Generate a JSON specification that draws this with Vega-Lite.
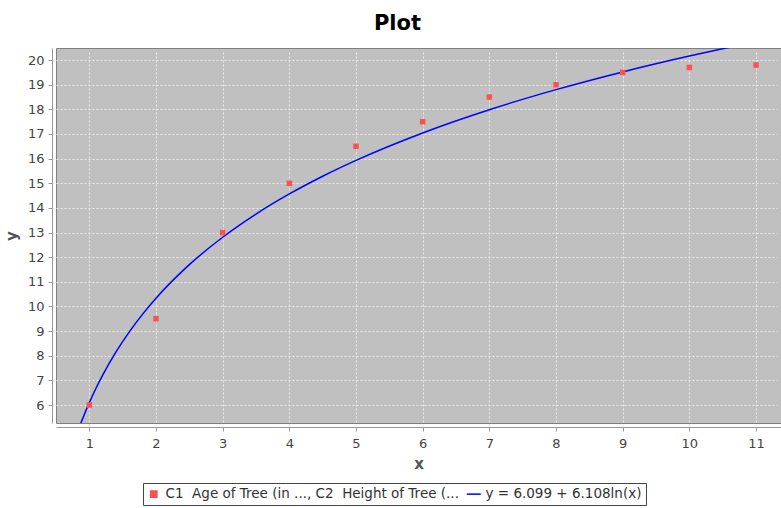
{
  "$schema": "https://vega.github.io/schema/vega-lite/v6.json",
  "autosize": {"type": "none"},
  "width": 725,
  "height": 375,
  "padding": {"left": 56, "top": 48, "right": 0, "bottom": 85},
  "background": "white",
  "title": {"text": "Plot", "fontSize": 21, "font": "DejaVu Sans", "fontWeight": "bold", "color": "black", "offset": 14, "dx": -21},
  "config": {
    "view": {"fill": "#C0C0C0", "stroke": "#808080", "strokeWidth": 1},
    "axis": {
      "gridColor": "#EAEAEA", "gridDash": [2, 2], "gridWidth": 1,
      "domainColor": "#999999", "tickColor": "#999999",
      "labelFont": "DejaVu Sans", "labelFontSize": 13, "labelColor": "#444444",
      "titleFont": "DejaVu Sans", "titleFontSize": 15, "titleFontWeight": "bold", "titleColor": "#555555",
      "offset": 4, "tickSize": 4
    }
  },
  "datasets": {
    "pts": [
      {"x": 1, "y": 6.0, "series": "C1\u00a0\u00a0Age of Tree (in ..., C2\u00a0\u00a0Height of Tree (..."},
      {"x": 2, "y": 9.5, "series": "C1\u00a0\u00a0Age of Tree (in ..., C2\u00a0\u00a0Height of Tree (..."},
      {"x": 3, "y": 13.0, "series": "C1\u00a0\u00a0Age of Tree (in ..., C2\u00a0\u00a0Height of Tree (..."},
      {"x": 4, "y": 15.0, "series": "C1\u00a0\u00a0Age of Tree (in ..., C2\u00a0\u00a0Height of Tree (..."},
      {"x": 5, "y": 16.5, "series": "C1\u00a0\u00a0Age of Tree (in ..., C2\u00a0\u00a0Height of Tree (..."},
      {"x": 6, "y": 17.5, "series": "C1\u00a0\u00a0Age of Tree (in ..., C2\u00a0\u00a0Height of Tree (..."},
      {"x": 7, "y": 18.5, "series": "C1\u00a0\u00a0Age of Tree (in ..., C2\u00a0\u00a0Height of Tree (..."},
      {"x": 8, "y": 19.0, "series": "C1\u00a0\u00a0Age of Tree (in ..., C2\u00a0\u00a0Height of Tree (..."},
      {"x": 9, "y": 19.5, "series": "C1\u00a0\u00a0Age of Tree (in ..., C2\u00a0\u00a0Height of Tree (..."},
      {"x": 10, "y": 19.7, "series": "C1\u00a0\u00a0Age of Tree (in ..., C2\u00a0\u00a0Height of Tree (..."},
      {"x": 11, "y": 19.8, "series": "C1\u00a0\u00a0Age of Tree (in ..., C2\u00a0\u00a0Height of Tree (..."}
    ],
    "fit": [
      {"x": 0.87, "y": 5.248, "series": "y = 6.099 + 6.108ln(x)"},
      {"x": 0.9, "y": 5.455, "series": "y = 6.099 + 6.108ln(x)"},
      {"x": 1.0, "y": 6.099, "series": "y = 6.099 + 6.108ln(x)"},
      {"x": 1.1, "y": 6.681, "series": "y = 6.099 + 6.108ln(x)"},
      {"x": 1.2, "y": 7.213, "series": "y = 6.099 + 6.108ln(x)"},
      {"x": 1.4, "y": 8.154, "series": "y = 6.099 + 6.108ln(x)"},
      {"x": 1.6, "y": 8.970, "series": "y = 6.099 + 6.108ln(x)"},
      {"x": 1.8, "y": 9.689, "series": "y = 6.099 + 6.108ln(x)"},
      {"x": 2.0, "y": 10.333, "series": "y = 6.099 + 6.108ln(x)"},
      {"x": 2.5, "y": 11.696, "series": "y = 6.099 + 6.108ln(x)"},
      {"x": 3.0, "y": 12.809, "series": "y = 6.099 + 6.108ln(x)"},
      {"x": 3.5, "y": 13.751, "series": "y = 6.099 + 6.108ln(x)"},
      {"x": 4.0, "y": 14.567, "series": "y = 6.099 + 6.108ln(x)"},
      {"x": 4.5, "y": 15.286, "series": "y = 6.099 + 6.108ln(x)"},
      {"x": 5.0, "y": 15.930, "series": "y = 6.099 + 6.108ln(x)"},
      {"x": 6.0, "y": 17.043, "series": "y = 6.099 + 6.108ln(x)"},
      {"x": 7.0, "y": 17.985, "series": "y = 6.099 + 6.108ln(x)"},
      {"x": 8.0, "y": 18.800, "series": "y = 6.099 + 6.108ln(x)"},
      {"x": 9.0, "y": 19.520, "series": "y = 6.099 + 6.108ln(x)"},
      {"x": 10.0, "y": 20.163, "series": "y = 6.099 + 6.108ln(x)"},
      {"x": 10.6, "y": 20.519, "series": "y = 6.099 + 6.108ln(x)"}
    ]
  },
  "encoding": {
    "x": {"field": "x", "type": "quantitative", "title": "x",
      "scale": {"domain": [0.5, 11.375], "nice": false, "zero": false},
      "axis": {"values": [1, 2, 3, 4, 5, 6, 7, 8, 9, 10, 11], "labelPadding": 6, "titlePadding": 6}},
    "y": {"field": "y", "type": "quantitative", "title": "y",
      "scale": {"domain": [5.27, 20.49], "nice": false, "zero": false},
      "axis": {"values": [6, 7, 8, 9, 10, 11, 12, 13, 14, 15, 16, 17, 18, 19, 20], "labelPadding": 4, "titlePadding": 8}},
    "color": {"field": "series", "type": "nominal",
      "scale": {"domain": ["C1\u00a0\u00a0Age of Tree (in ..., C2\u00a0\u00a0Height of Tree (...", "y = 6.099 + 6.108ln(x)"], "range": ["#FF5050", "#0000FF"]},
      "legend": {
        "orient": "none", "legendX": 87, "legendY": 435, "direction": "horizontal",
        "title": null, "labelFont": "DejaVu Sans", "labelFontSize": 13.5, "labelColor": "#333333",
        "labelLimit": 400, "strokeColor": "#444444", "fillColor": "white", "padding": 4,
        "columnPadding": 4, "symbolSize": 40, "labelOffset": 5,
        "encode": {"symbols": {"update": {
          "shape": {"signal": "datum.value === 'y = 6.099 + 6.108ln(x)' ? 'stroke' : 'square'"},
          "size": {"signal": "datum.value === 'y = 6.099 + 6.108ln(x)' ? 196 : 40"},
          "strokeWidth": {"value": 1.5},
          "fillOpacity": {"value": 1}
        }}}
      }}
  },
  "layer": [
    {"data": {"name": "fit"}, "mark": {"type": "line", "clip": true, "strokeWidth": 1.5, "interpolate": "monotone"}},
    {"data": {"name": "pts"}, "mark": {"type": "square", "size": 30, "opacity": 1, "filled": true}}
  ]
}
